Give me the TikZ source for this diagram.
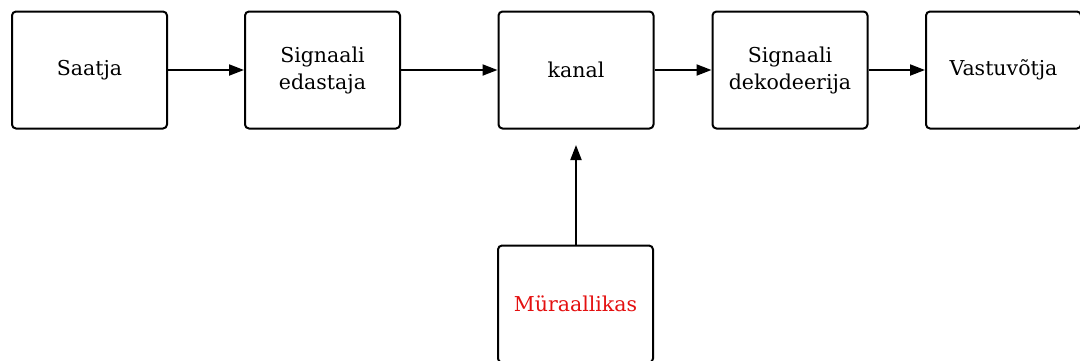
\documentclass[tikz,border=0pt]{standalone}
\usepackage{fontspec}
\setmainfont{DejaVu Serif}
\usetikzlibrary{arrows.meta}
\begin{document}
\begin{tikzpicture}[x=1pt,y=-1pt,
  blk/.style={draw=black, line width=2pt, rounded corners=4pt,
    minimum width=155pt, minimum height=117pt, inner sep=0pt,
    align=center, font=\fontsize{20.5}{27}\selectfont},
  flow/.style={line width=2pt, -{Triangle[length=15pt,width=11pt]}}]
  \useasboundingbox (0,0) rectangle (1080,360);
  \node[blk] (src) at (89.5,70) {Saatja};
  \node[blk] (enc) at (322.5,70) {Signaali\\edastaja};
  \node[blk] (chan) at (576,70) {kanal};
  \node[blk] (dec) at (790,70) {Signaali\\dekodeerija};
  \node[blk] (dst) at (1003.5,70) {Vastuvõtja};
  \node[blk, text={rgb,255:red,228;green,16;blue,16}] (noise) at (575.5,304) {Müraallikas};
  \coordinate (tip) at (576,145);
  \draw[flow] (src) -- (enc);
  \draw[flow] (enc) -- (chan);
  \draw[flow] (chan) -- (dec);
  \draw[flow] (dec) -- (dst);
  \draw[flow] (noise.north -| tip) -- (tip);
\end{tikzpicture}
\end{document}
